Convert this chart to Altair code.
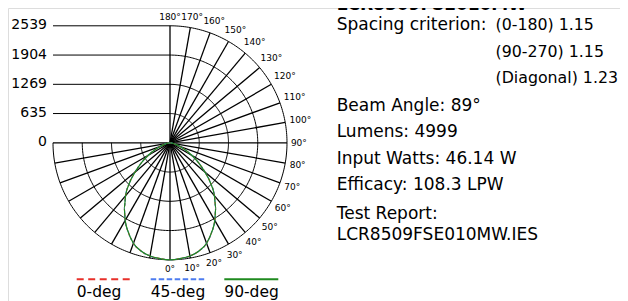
import math
import pandas as pd
import altair as alt

# ---------------- data ----------------
RING_VALUES = [635, 1269, 1904, 2539]
AXIS_VALUES = [0, 635, 1269, 1904, 2539]
AXIS_LABELS = ["0", "635", "1269", "1904", "2539"]
DEGREE_TICKS = list(range(0, 181, 10))

CANDELA_ANGLES = [0, 5, 10, 15, 20, 25, 30, 35, 40, 45, 50, 55, 60, 65, 70, 75, 80, 85, 90]
CANDELA_0 = [2539, 2522, 2495, 2430, 2320, 2140, 1945, 1730, 1500, 1250, 990, 760, 550, 370, 230, 130, 60, 20, 0]
CANDELA_45 = [2539, 2522, 2495, 2430, 2320, 2140, 1945, 1730, 1500, 1250, 990, 760, 550, 370, 230, 130, 60, 20, 0]
CANDELA_90 = [2539, 2522, 2495, 2430, 2320, 2140, 1945, 1730, 1500, 1250, 990, 760, 550, 370, 230, 130, 60, 20, 0]

SERIES = ["0-deg", "45-deg", "90-deg"]
SERIES_COLORS = ["#e8302a", "#4d7cf0", "#1f8a1f"]

TITLE = "LCR8509FSE010MW"
INFO_LEFT = ["Spacing criterion:", "", "", "Beam Angle: 89°", "Lumens: 4999",
             "Input Watts: 46.14 W", "Efficacy: 108.3 LPW", "Test Report:", "LCR8509FSE010MW.IES"]
INFO_RIGHT = ["(0-180) 1.15", "(90-270) 1.15", "(Diagonal) 1.23"]

# ---------------- layout ----------------
W, H = 612, 293
CX, CY = 162.0, 134.8
R_PX = 117.0
MAXV = AXIS_VALUES[-1]
k = R_PX / MAXV
FONT = "DejaVu Sans"

xs = alt.Scale(domain=[-CX / k, (W - CX) / k], nice=False, zero=False)
ys = alt.Scale(domain=[-(H - CY) / k, CY / k], nice=False, zero=False)


def X(f):
    return alt.X(f, type="quantitative", scale=xs, axis=None)


def Y(f):
    return alt.Y(f, type="quantitative", scale=ys, axis=None)


# rings: lower semicircle + upper right quadrant
ring_rows = []
for v in RING_VALUES:
    for g in range(-90, 181):
        a = math.radians(g)
        ring_rows.append({"ring": v, "g": g, "x": v * math.sin(a), "y": -v * math.cos(a)})
rings = alt.Chart(pd.DataFrame(ring_rows)).mark_line(color="black", strokeWidth=1).encode(
    x=X("x"), y=Y("y"), detail="ring:N", order="g:Q")

# radial lines
rad_rows = []
for g in range(-90, 181, 10):
    a = math.radians(g)
    rad_rows.append({"z": 0, "xe": MAXV * math.sin(a), "ye": -MAXV * math.cos(a)})
radials = alt.Chart(pd.DataFrame(rad_rows)).mark_rule(color="black", strokeWidth=1.3).encode(
    x=X("z"), y=Y("z"), x2="xe", y2="ye")

# horizontal value lines in the upper-left quadrant
hl = pd.DataFrame({"v": RING_VALUES, "xa": [-MAXV] * len(RING_VALUES), "xb": [0] * len(RING_VALUES)})
hlines = alt.Chart(hl).mark_rule(color="black", strokeWidth=1).encode(x=X("xa"), x2="xb", y=Y("v"))

# value labels
vl = pd.DataFrame({"v": AXIS_VALUES, "lab": AXIS_LABELS, "xa": [-MAXV] * len(AXIS_VALUES)})
vlabels = alt.Chart(vl).mark_text(align="right", baseline="middle", dx=-6, dy=-0.5,
                                  font=FONT, fontSize=14, color="black").encode(
    x=X("xa"), y=Y("v"), text="lab:N")

# degree labels
deg_rows = []
for g in DEGREE_TICKS:
    a = math.radians(g)
    lab = f"{g}°"
    wpx = 5.6 * len(str(g)) + 4.5
    rpx = 121 + abs(math.sin(a)) * wpx / 2 + abs(math.cos(a)) * 5
    deg_rows.append({"lab": lab, "x": rpx / k * math.sin(a), "y": -rpx / k * math.cos(a)})
dlabels = alt.Chart(pd.DataFrame(deg_rows)).mark_text(align="center", baseline="middle",
                                                      font=FONT, fontSize=9, color="black").encode(
    x=X("x"), y=Y("y"), text="lab:N")

# candela curves
curve_layers = []
dashes = [[3, 2], [2.5, 1.5], None]
for name, vals, col, dash in zip(SERIES, [CANDELA_0, CANDELA_45, CANDELA_90], SERIES_COLORS, dashes):
    rows = []
    for g, c in zip(CANDELA_ANGLES, vals):
        for s in (-1, 1):
            gg = s * g
            a = math.radians(gg)
            rows.append({"series": name, "g": gg, "x": c * math.sin(a), "y": -c * math.cos(a)})
    df = pd.DataFrame(rows).drop_duplicates(subset=["g"]).sort_values("g")
    kw = dict(color=col, strokeWidth=1.2, interpolate="monotone")
    if dash:
        kw["strokeDash"] = dash
    curve_layers.append(alt.Chart(df).mark_line(**kw).encode(x=X("x"), y=Y("y"), order="g:Q"))

# legend (drawn manually: line above label)
LEG_X0 = [68.7, 142.7, 216.3]
LEG_LEN = 54
LEG_LINE_Y = 271.3
LEG_TEXT_Y = 288.7
leg_dash = [[7, 4.5], [5.5, 2.5], None]
legend_layers = []
for name, col, x0, dash in zip(SERIES, SERIES_COLORS, LEG_X0, leg_dash):
    kw = dict(color=col, strokeWidth=2)
    if dash:
        kw["strokeDash"] = dash
    legend_layers.append(alt.Chart(pd.DataFrame({"s": [name]})).mark_rule(**kw).encode(
        x=alt.value(x0), x2=alt.value(x0 + LEG_LEN), y=alt.value(LEG_LINE_Y)))
    legend_layers.append(alt.Chart(pd.DataFrame({"s": [name]})).mark_text(
        align="left", baseline="alphabetic", font=FONT, fontSize=15.5, color="black").encode(
        x=alt.value(x0), y=alt.value(LEG_TEXT_Y), text="s:N"))

# info block
INFO_X = 328.7
INFO_X2 = 487.5
INFO_Y = [22, 49, 75, 103, 129, 156, 182, 211, 232]
info_layers = [alt.Chart(pd.DataFrame({"t": [TITLE]})).mark_text(
    align="left", baseline="alphabetic", font=FONT, fontSize=17, fontWeight="bold", color="black").encode(
    x=alt.value(INFO_X), y=alt.value(2), text="t:N")]
for t, y in zip(INFO_LEFT, INFO_Y):
    if t:
        info_layers.append(alt.Chart(pd.DataFrame({"t": [t]})).mark_text(
            align="left", baseline="alphabetic", font=FONT, fontSize=17, color="black").encode(
            x=alt.value(INFO_X), y=alt.value(y), text="t:N"))
for t, y in zip(INFO_RIGHT, INFO_Y):
    info_layers.append(alt.Chart(pd.DataFrame({"t": [t]})).mark_text(
        align="left", baseline="alphabetic", font=FONT, fontSize=15.8, color="black").encode(
        x=alt.value(INFO_X2), y=alt.value(y), text="t:N"))

chart = alt.layer(
    rings, radials, hlines, vlabels, dlabels, *curve_layers, *legend_layers, *info_layers
).properties(
    width=W, height=H, padding=0, autosize=alt.AutoSizeParams(type="none")
).configure_view(stroke=None).configure(background="white")

chart.save("out.html", embed_options={"renderer": "svg", "actions": False})
